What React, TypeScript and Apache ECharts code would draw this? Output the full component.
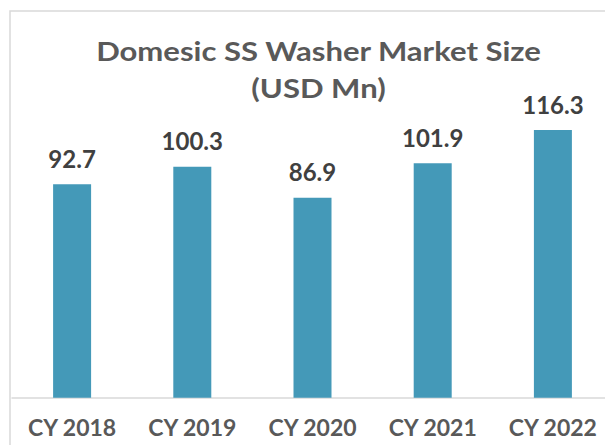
import React, { useEffect, useRef } from "react";
import * as echarts from "echarts";

const categories = ["CY 2018", "CY 2019", "CY 2020", "CY 2021", "CY 2022"];
const values = [92.7, 100.3, 86.9, 101.9, 116.3];
const titleLines = ["Domesic SS Washer Market Size", "(USD Mn)"];

export default function App() {
  const ref = useRef<HTMLDivElement>(null);
  useEffect(() => {
    if (!ref.current) return;
    const chart = echarts.init(ref.current, null, { renderer: "svg" });
    const font = "Lato, 'Noto Sans', sans-serif";
    chart.setOption({
      animation: false,
      backgroundColor: "#ffffff",
      graphic: [
        {
          type: "rect",
          shape: { x: 2, y: 3, width: 800, height: 600 },
          style: { fill: "none", stroke: "#d9d9d9", lineWidth: 1.5 },
          silent: true,
        },
        {
          type: "text",
          x: 310.5,
          y: 42,
          scaleX: 1.15,
          style: {
            text: titleLines[0],
            font: `bold 27px ${font}`,
            fill: "#595959",
            textAlign: "center",
            textVerticalAlign: "middle",
          },
        },
        {
          type: "text",
          x: 310.5,
          y: 79,
          scaleX: 1.15,
          style: {
            text: titleLines[1],
            font: `bold 27px ${font}`,
            fill: "#595959",
            textAlign: "center",
            textVerticalAlign: "middle",
          },
        },
      ],
      grid: { left: 4, right: -9, top: 90.5, bottom: 47.3, containLabel: false },
      xAxis: {
        type: "category",
        data: categories,
        axisLine: { lineStyle: { color: "#d9d9d9", width: 1.5 } },
        axisTick: { show: false },
        axisLabel: {
          color: "#595959",
          fontFamily: font,
          fontWeight: "bold",
          fontSize: 23,
          margin: 18,
        },
      },
      yAxis: { type: "value", min: 0, max: 130, show: false, splitLine: { show: false } },
      series: [
        {
          type: "bar",
          data: values,
          barWidth: 38,
          itemStyle: { color: "#4499B8" },
          label: {
            show: true,
            position: "top",
            distance: 14,
            color: "#404040",
            fontFamily: font,
            fontWeight: "bold",
            fontSize: 24,
            formatter: (p: any) => p.value.toFixed(1),
          },
        },
      ],
    });
    return () => chart.dispose();
  }, []);
  return <div ref={ref} style={{ width: 605, height: 437, overflow: "hidden" }} />;
}
